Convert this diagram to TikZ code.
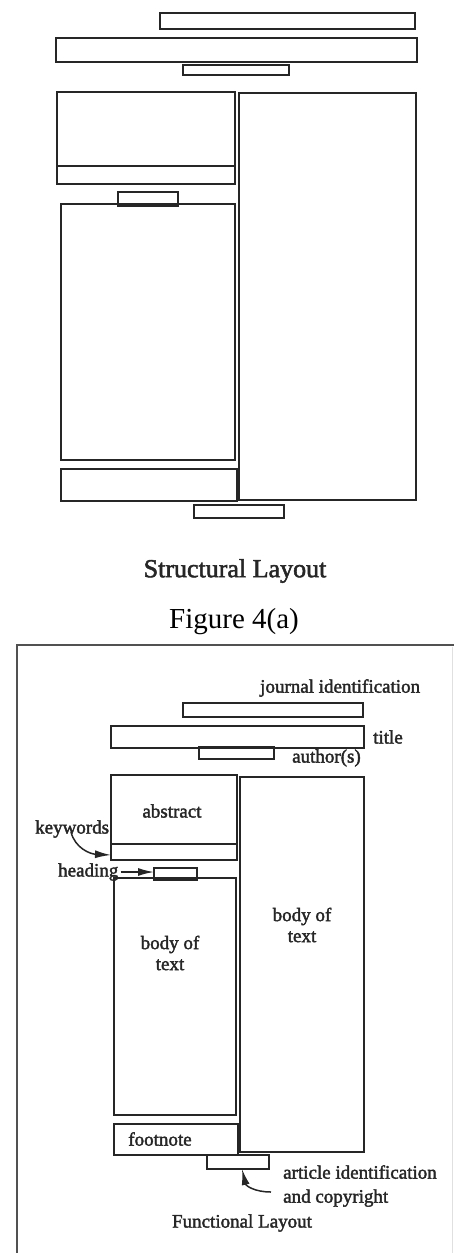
\documentclass[tikz,border=0pt]{standalone}
\usepackage{fontspec}
\setmainfont{Liberation Serif}
\newfontfamily\scanfont[FakeBold=2]{Liberation Serif}
\usetikzlibrary{arrows.meta}
\definecolor{ink}{HTML}{262626}
\tikzset{
  tbox/.style={draw=ink, line width=2pt, inner sep=0pt, outer sep=0pt, anchor=north west},
  bbox/.style={draw=ink, line width=1.6pt, inner sep=0pt, outer sep=0pt, anchor=north west},
  lbl/.style={text=ink, inner sep=0pt, font=\scanfont\fontsize{19}{21}\selectfont},
  captxt/.style={text=ink, inner sep=0pt, font=\scanfont\fontsize{26}{28}\selectfont},
  arr/.style={draw=ink, line width=1.5pt, -{Latex[length=16pt,width=8pt]}}
}
\begin{document}
\begin{tikzpicture}[x=1pt,y=-1pt]
\useasboundingbox (0,0) rectangle (454,1253);
% ---------- Structural layout ----------
\node[tbox, minimum width=255pt, minimum height=16pt] (tj) at (160,13) {};
\node[tbox, minimum width=361pt, minimum height=24pt] (tt) at (56,38) {};
\node[tbox, minimum width=106pt, minimum height=10pt] (ta) at (183,65) {};
\node[tbox, minimum width=178pt, minimum height=74pt] (tabs) at (57,92) {};
\node[tbox, minimum width=178pt, minimum height=18pt] (tkey) at (57,166) {};
\node[tbox, minimum width=60pt, minimum height=14pt] (thead) at (118,192) {};
\node[tbox, minimum width=174pt, minimum height=256pt] (tbody) at (61,204) {};
\node[tbox, minimum width=177pt, minimum height=407pt] (tright) at (239,93) {};
\node[tbox, minimum width=176pt, minimum height=32pt] (tfoot) at (61,469) {};
\node[tbox, minimum width=90pt, minimum height=13pt] (tart) at (194,505) {};
\node[captxt] (tcap) at (235,571) {Structural Layout};
\node[text=black, inner sep=0pt, font=\fontsize{29}{31}\selectfont] (fig) at (234,622) {Figure 4(a)};
% ---------- Functional layout ----------
\coordinate (ftl) at (17,645);
\coordinate (ftr) at (454,645);
\coordinate (fbl) at (17,1253);
\draw[draw=ink!80, line width=1.6pt] (ftr) -- (ftl) -- (fbl);
\coordinate (frt) at (452,647);
\coordinate (frb) at (452,1253);
\draw[draw=black!12, line width=1pt] (frt) -- (frb);
\node[bbox, minimum width=180pt, minimum height=14pt] (bj) at (183,703) {};
\node[bbox, minimum width=253pt, minimum height=22pt] (bt) at (111,726) {};
\node[bbox, minimum width=75pt, minimum height=12pt] (ba) at (199,747) {};
\node[bbox, minimum width=126pt, minimum height=69pt] (babs) at (111,775) {};
\node[bbox, minimum width=126pt, minimum height=16pt] (bkey) at (111,844) {};
\node[bbox, minimum width=43pt, minimum height=12pt] (bhead) at (154,868) {};
\node[bbox, minimum width=122pt, minimum height=237pt] (bbody) at (114,878) {};
\node[bbox, minimum width=124pt, minimum height=375pt] (bright) at (240,777) {};
\node[bbox, minimum width=124pt, minimum height=31pt] (bfoot) at (114,1124) {};
\node[bbox, minimum width=62pt, minimum height=14pt] (bart) at (207,1155) {};
% labels
\node[lbl, anchor=west] (ljour) at (260,688) {journal identification};
\node[lbl, anchor=west] (ltitle) at (373,737) {title};
\node[lbl, anchor=west] (lauth) at (292,758) {author(s)};
\node[lbl] (labs) at (172,811) {abstract};
\node[lbl, anchor=west] (lkey) at (35,829) {keywords};
\node[lbl, anchor=west] (lhead) at (58,872) {heading};
\node[lbl, align=center] (lbright) at (302,925) {body of\\text};
\node[lbl, align=center] (lbleft) at (170,953) {body of\\text};
\node[lbl] (lfoot) at (160,1139) {footnote};
\node[lbl, align=left, anchor=west, font=\scanfont\fontsize{19}{24}\selectfont] (lart) at (283,1186) {article identification\\and copyright};
\node[lbl] (lfun) at (242,1223) {Functional Layout};
% arrows
\coordinate (kstart) at (71,832);
\draw[arr] (kstart) .. controls (75,848) and (90,854) .. ([yshift=-3pt]bkey.west);
\draw[arr] ([xshift=2pt]lhead.east) -- (lhead.east -| bhead.west);
\coordinate (astart) at (271,1192);
\draw[arr] (astart) .. controls (255,1192) and (246,1186) .. ([xshift=4pt]bart.south);
\end{tikzpicture}
\end{document}
